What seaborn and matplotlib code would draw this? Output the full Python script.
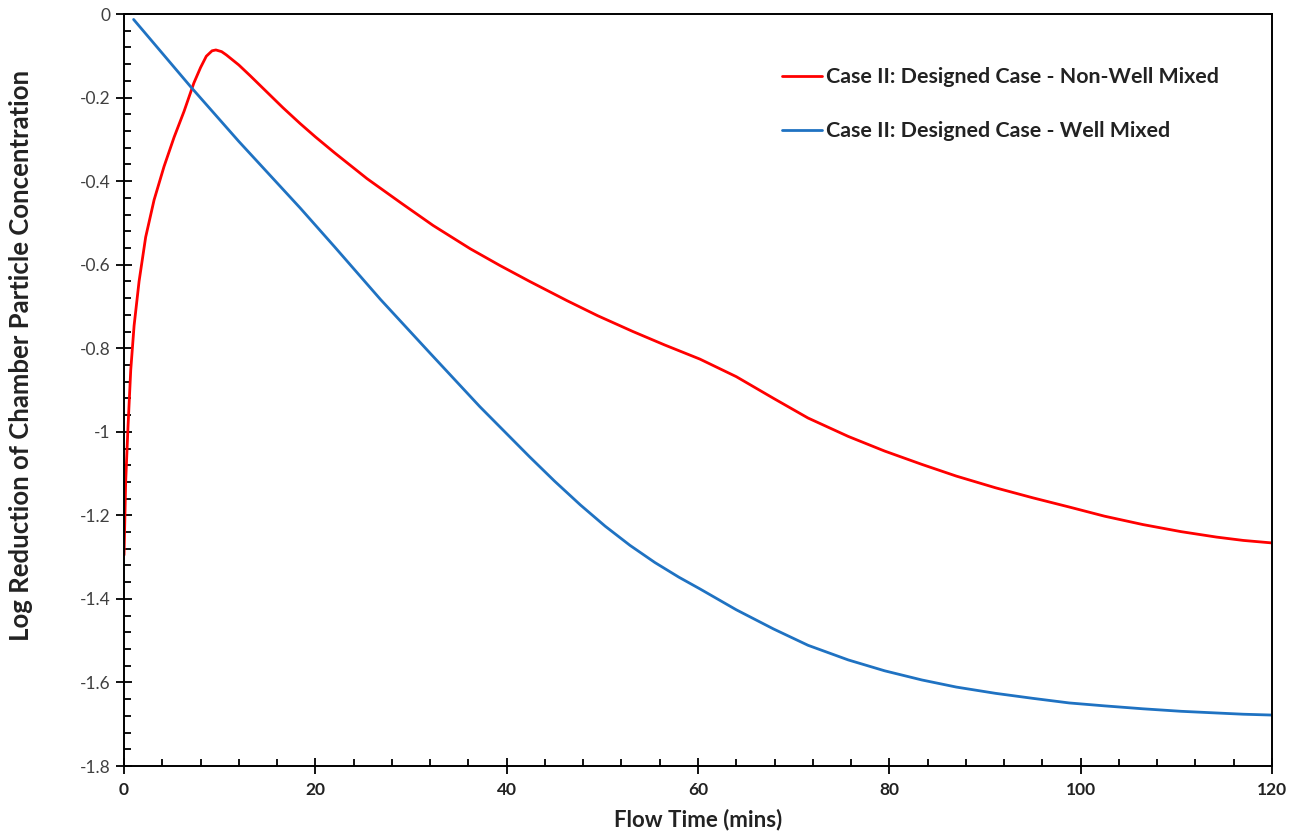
import numpy as np
import pandas as pd
import matplotlib
matplotlib.use("Agg")
import matplotlib.pyplot as plt
from matplotlib.ticker import MultipleLocator, FuncFormatter
import seaborn as sns

sns.set_theme(style="white")
plt.rcParams["font.family"] = ["Lato", "DejaVu Sans"]
plt.rcParams["axes.unicode_minus"] = False

# values
red_t = [0.0, 0.17, 0.42, 0.7, 1.05, 1.57, 2.26, 3.14, 4.18, 5.23, 6.27,
         7.3, 8.0, 8.6, 9.2, 9.6, 10.2, 10.7, 12.0, 13.2, 14.9, 16.6, 18.4,
         20.0, 22.0, 25.4, 29.0, 32.3, 36.2, 39.3, 42.4, 46.3, 49.5, 53.2,
         56.5, 60.2, 64.0, 67.9, 71.5, 75.7, 79.5, 83.4, 87.0, 91.1, 95.0,
         98.8, 102.5, 106.5, 110.5, 114.2, 117.0, 120.0]
red_y = [-1.295, -1.12, -0.985, -0.852, -0.746, -0.64, -0.534, -0.445,
         -0.365, -0.295, -0.233, -0.165, -0.128, -0.101, -0.088, -0.086,
         -0.09, -0.098, -0.122, -0.148, -0.186, -0.224, -0.262, -0.294,
         -0.332, -0.394, -0.453, -0.506, -0.562, -0.602, -0.64, -0.686,
         -0.722, -0.76, -0.792, -0.826, -0.868, -0.92, -0.967, -1.011,
         -1.046, -1.078, -1.106, -1.134, -1.158, -1.18, -1.202, -1.222,
         -1.239, -1.252, -1.26, -1.266]

blue_t = [1.0, 7.0, 12.0, 18.4, 22.0, 26.8, 32.0, 37.2, 42.4, 45.0, 47.7,
          50.3, 52.9, 55.5, 58.0, 60.2, 64.0, 67.9, 71.5, 75.7, 79.5, 83.4,
          87.0, 91.1, 95.0, 98.8, 102.5, 106.5, 110.5, 114.2, 117.0, 120.0]
blue_y = [-0.013, -0.175, -0.305, -0.464, -0.557, -0.683, -0.812, -0.94,
          -1.06, -1.118, -1.175, -1.226, -1.272, -1.313, -1.348, -1.376,
          -1.426, -1.472, -1.511, -1.546, -1.572, -1.594, -1.611, -1.626,
          -1.638, -1.649, -1.656, -1.663, -1.669, -1.673, -1.676, -1.678]

labels = ["Case II: Designed Case - Non-Well Mixed",
          "Case II: Designed Case - Well Mixed"]
colors = ["#ff0000", "#1f72c2"]

df = pd.concat([
    pd.DataFrame({"t": red_t, "y": red_y, "case": labels[0]}),
    pd.DataFrame({"t": blue_t, "y": blue_y, "case": labels[1]}),
])

fig = plt.figure(figsize=(13.03, 8.35), dpi=100)
ax = fig.add_axes([0.0952, 0.0826, 0.881, 0.9006])

sns.lineplot(data=df, x="t", y="y", hue="case", palette=colors,
             estimator=None, sort=False, linewidth=2.0, ax=ax)

ax.set_xlim(0, 120)
ax.set_ylim(-1.8, 0)
ax.xaxis.set_major_locator(MultipleLocator(20))
ax.xaxis.set_minor_locator(MultipleLocator(4))
ax.yaxis.set_major_locator(MultipleLocator(0.2))
ax.yaxis.set_minor_locator(MultipleLocator(0.04))
ax.yaxis.set_major_formatter(FuncFormatter(lambda v, p: f"{v:g}" if abs(v) > 1e-9 else "0"))

ax.tick_params(which="major", direction="inout", length=11, width=1.3,
               color="black", bottom=True, left=True, top=False, right=False)
ax.tick_params(which="minor", direction="in", length=5, width=1.3,
               color="black", bottom=True, left=True, top=False, right=False)
ax.tick_params(axis="x", which="major", labelsize=12.5, pad=6, labelcolor="#222222")
ax.tick_params(axis="y", which="major", labelsize=12.5, pad=4, labelcolor="#404040")
for lbl in ax.get_xticklabels():
    lbl.set_fontweight("bold")

for s in ax.spines.values():
    s.set_color("black")
    s.set_linewidth(1.4)

ax.set_xlabel("Flow Time (mins)", fontsize=16, fontweight="bold", color="#222222", labelpad=8)
ax.set_ylabel("Log Reduction of Chamber Particle Concentration", fontsize=18.5,
              fontweight="bold", color="#222222")
ax.yaxis.set_label_coords(-0.079, 0.5465)

leg = ax.legend(loc="upper left", bbox_to_anchor=(0.556, 0.955), frameon=False,
                fontsize=15.4, handlelength=1.87, handletextpad=0.2,
                labelspacing=1.6)
for t in leg.get_texts():
    t.set_fontweight("bold")
    t.set_color("#222222")

fig.savefig("out.png", dpi=100)
